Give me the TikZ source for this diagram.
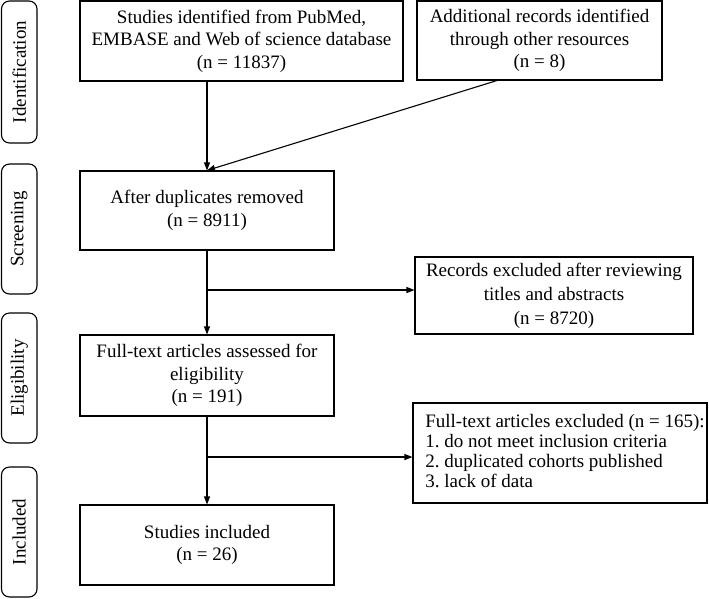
\documentclass[tikz,border=0pt]{standalone}
\usepackage{fontspec}
\setmainfont{Liberation Serif}
\usetikzlibrary{arrows.meta,calc}
\begin{document}
\frenchspacing
\begin{tikzpicture}[x=1pt,y=-1pt]
\tikzset{
  box/.style={draw, line width=1.1pt, inner sep=0pt, align=center,
    font=\fontsize{19}{22.5}\selectfont},
  stage/.style={draw, line width=1.1pt, rounded corners=8pt, rotate=90,
    inner sep=0pt, minimum height=35.5pt, font=\fontsize{19}{22.5}\selectfont},
  conn/.style={line width=1.1pt, -{Triangle[length=8pt,width=6pt]}}
}
\useasboundingbox (0,0) rectangle (709,598);

% stage labels
\node[stage, minimum width=142pt] (sid) at (19.25,72) {Identification};
\node[stage, minimum width=130pt] (ssc) at (19.25,229) {Screening};
\node[stage, minimum width=130pt] (sel) at (19.25,378) {Eligibility};
\node[stage, minimum width=130pt] (sin) at (19.25,532) {Included};

% boxes
\node[box, minimum width=323pt, minimum height=80pt] (box1) at (241.5,41)
  {Studies identified from PubMed,\\EMBASE and Web of science database\\(n = 11837)};
\node[box, minimum width=245pt, minimum height=79pt] (box2) at (539.5,40.5)
  {Additional records identified\\through other resources\\(n = 8)};
\node[box, minimum width=254pt, minimum height=79pt] (box3) at (207,210.5)
  {After duplicates removed\\(n = 8911)};
\node[box, minimum width=278pt, minimum height=77pt, font=\fontsize{19}{24}\selectfont] (box4) at (554,295.5)
  {Records excluded after reviewing\\titles and abstracts\\(n = 8720)};
\node[box, minimum width=294pt, minimum height=100pt] (box6) at (560,453)
  {\hspace*{10pt}{\fontsize{19}{20}\selectfont\begin{tabular}{@{}l@{}}Full-text articles excluded (n = 165):\\1. do not meet inclusion criteria\\2. duplicated cohorts published\\3. lack of data\end{tabular}}};
\node[box, minimum width=254pt, minimum height=81pt] (box5) at (207,375.5)
  {Full-text articles assessed for\\eligibility\\(n = 191)};
\node[box, minimum width=254pt, minimum height=80pt] (box7) at (207,545)
  {Studies included\\(n = 26)};

% connectors
\coordinate (s2) at ($(box2.south west)!0.327!(box2.south east)$);
\coordinate (b1) at (207,290);
\coordinate (b2) at (207,457);
\draw[conn] (box3.north |- box1.south) -- (box3.north);
\draw[conn] (s2) -- (box3.north);
\draw[conn] (box3.south) -- (box5.north);
\draw[conn] (b1) -- (box4.west |- b1);
\draw[conn] (box5.south) -- (box7.north);
\draw[conn] (b2) -- (box6.west |- b2);
\end{tikzpicture}
\end{document}
